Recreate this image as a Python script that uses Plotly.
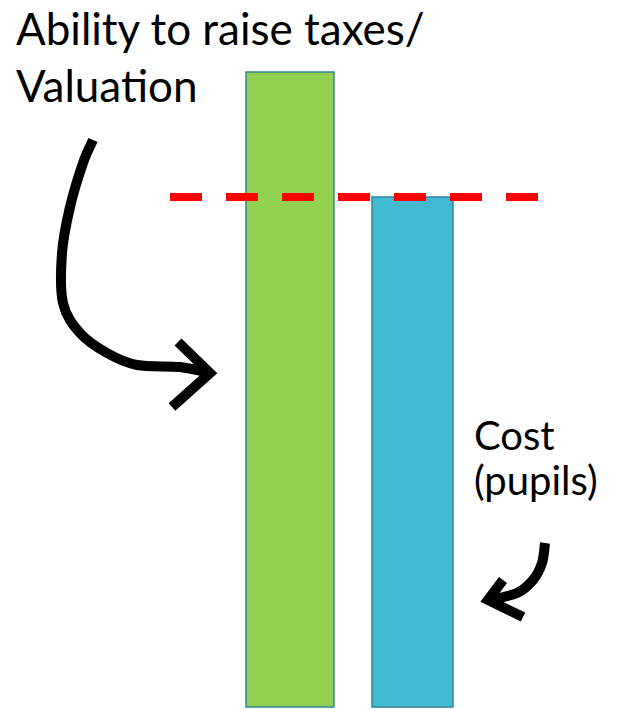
import plotly.graph_objects as go

W, H = 621, 709

categories = ["Valuation", "Cost"]
values = [100, 80.3]
bar_colors = ["#92D050", "#40B9D1"]
bar_widths = [0.718, 0.661]

label_main = "Ability to raise taxes/<br>Valuation"
label_cost_1 = "Cost"
label_cost_2 = "(pupils)"


def px(x, y):
    return x / W, 1 - y / H


def smooth_path(pts):
    # Catmull-Rom -> cubic bezier in paper coords
    P = [px(*p) for p in pts]
    d = "M %.5f,%.5f" % P[0]
    for i in range(len(P) - 1):
        p0 = P[i - 1] if i > 0 else P[i]
        p1 = P[i]
        p2 = P[i + 1]
        p3 = P[i + 2] if i + 2 < len(P) else P[i + 1]
        c1 = (p1[0] + (p2[0] - p0[0]) / 6, p1[1] + (p2[1] - p0[1]) / 6)
        c2 = (p2[0] - (p3[0] - p1[0]) / 6, p2[1] - (p3[1] - p1[1]) / 6)
        d += " C %.5f,%.5f %.5f,%.5f %.5f,%.5f" % (c1[0], c1[1], c2[0], c2[1], p2[0], p2[1])
    return d


def poly_path(pts):
    P = [px(*p) for p in pts]
    return "M " + " L ".join("%.5f,%.5f" % p for p in P)


fig = go.Figure(
    go.Bar(
        x=categories,
        y=values,
        width=bar_widths,
        marker=dict(color=bar_colors, line=dict(color="#31859C", width=1.5)),
        hoverinfo="skip",
    )
)

shapes = [
    dict(type="line", xref="paper", yref="y", x0=170 / W, x1=540 / W,
         y0=values[1], y1=values[1],
         line=dict(color="#FF0000", width=8, dash="32px,24px"), layer="above"),
]

arrow_big = [(93, 140), (83, 163), (70, 207), (62, 253), (63, 303), (80, 333),
             (107, 353), (137, 365), (180, 367), (210, 373)]
arrow_big_head = [(178, 342), (210, 373), (172, 407)]
arrow_small = [(545, 543), (542, 563), (533, 580), (517, 593), (490, 600)]
arrow_small_head = [(503, 580), (488, 600), (523, 617)]

for pts in (arrow_big, arrow_small):
    shapes.append(dict(type="path", xref="paper", yref="paper", path=smooth_path(pts),
                       line=dict(color="black", width=10)))
for pts in (arrow_big_head, arrow_small_head):
    shapes.append(dict(type="path", xref="paper", yref="paper", path=poly_path(pts),
                       line=dict(color="black", width=10)))

font_main = dict(family="Lato", size=44, color="black")
font_cost = dict(family="Lato", size=40, color="black")

fig.update_layout(
    width=W, height=H,
    margin=dict(l=0, r=0, t=0, b=0),
    paper_bgcolor="white", plot_bgcolor="white",
    showlegend=False,
    xaxis=dict(range=[-2.367, 2.702], visible=False, fixedrange=True),
    yaxis=dict(range=[-0.315, 111.34], visible=False, fixedrange=True),
    shapes=shapes,
    annotations=[
        dict(text=label_main, xref="paper", yref="paper", x=14 / W, y=1,
             xanchor="left", yanchor="top", align="left", showarrow=False, font=font_main),
        dict(text=label_cost_1, xref="paper", yref="paper", x=472 / W, y=1 - 409 / H,
             xanchor="left", yanchor="top", align="left", showarrow=False, font=font_cost),
        dict(text=label_cost_2, xref="paper", yref="paper", x=472 / W, y=1 - 454 / H,
             xanchor="left", yanchor="top", align="left", showarrow=False, font=font_cost),
    ],
)

fig.write_html("out.html", config={"displayModeBar": False},
               post_script="document.body.style.margin='0';document.body.style.overflow='hidden';")
